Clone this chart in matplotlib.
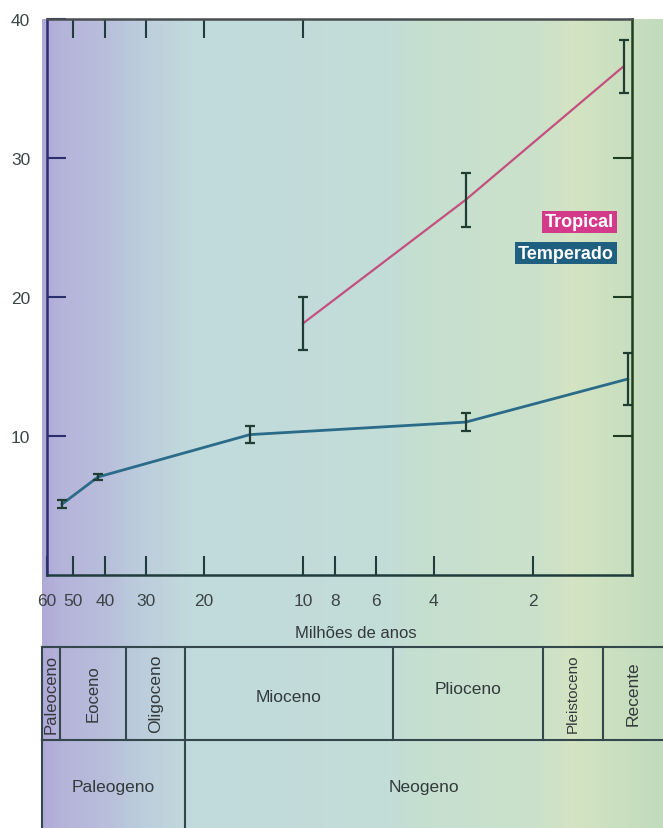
import numpy as np
import matplotlib.pyplot as plt
from matplotlib.colors import LinearSegmentedColormap
from matplotlib.ticker import NullLocator, FixedLocator

plt.rcParams['font.family'] = ['Liberation Sans', 'DejaVu Sans']

# idade em milhoes de anos, temperatura
temp_age = [54, 42, 14.5, 3.2, 1.03]
temp_val = [5.1, 7.05, 10.1, 11.0, 14.1]
temp_err = [0.3, 0.2, 0.6, 0.65, 1.9]

trop_age = [10, 3.2, 1.06]
trop_val = [18.1, 27.0, 36.6]
trop_err = [1.9, 1.95, 1.9]

xticks = [60, 50, 40, 30, 20, 10, 8, 6, 4, 2]
xticks_top = [50, 40, 30, 20, 10]
yticks = [10, 20, 30, 40]

epochs = ['Paleoceno', 'Eoceno', 'Oligoceno', 'Mioceno', 'Plioceno', 'Pleistoceno', 'Recente']
periods = ['Paleogeno', 'Neogeno']

W, H = 663, 829
fig = plt.figure(figsize=(W / 100, H / 100), dpi=100)

# fundo + tabela em coordenadas de pixel
bg = fig.add_axes([0, 0, 1, 1], zorder=0)
bg.set_xlim(0, W)
bg.set_ylim(H, 0)
bg.axis('off')

stops = [(42, '#b0aad8'), (62, '#b5b4da'), (110, '#b9c0db'), (140, '#bccddd'),
         (190, '#c1dadc'), (390, '#c3ddd8'), (420, '#c5dfd0'), (540, '#cbe1ca'),
         (575, '#d4e4c3'), (605, '#cde1c0'), (663, '#c2dbbd')]
cmap = LinearSegmentedColormap.from_list(
    'bg', [((p - 42) / (663 - 42), c) for p, c in stops])
grad = np.linspace(0, 1, 400)[None, :]
bg.imshow(grad, cmap=cmap, aspect='auto', extent=(42, 663, 829, 20), interpolation='bilinear')

line_c = '#34474c'
txt_c = '#333a3c'
ep_edges = [42, 60, 126, 185, 393, 543, 603, 663]
ep_rot = [90, 90, 90, 0, 0, 90, 90]
ep_size = [12, 12, 12.5, 12.5, 12.5, 11, 12.5]
ep_y = [694, 694, 694, 697, 690, 694, 694]
bg.plot([42, 663], [648, 648], color=line_c, lw=1.5)
bg.plot([42, 663], [741, 741], color=line_c, lw=1.5)
for e in ep_edges[:-1]:
    bg.plot([e, e], [648, 741], color=line_c, lw=1.5)
for i, name in enumerate(epochs):
    cx = (ep_edges[i] + ep_edges[i + 1]) / 2
    bg.text(cx, ep_y[i], name, rotation=ep_rot[i], ha='center', va='center',
            fontsize=ep_size[i], color=txt_c)
pe_edges = [42, 185, 663]
for e in pe_edges[:-1]:
    bg.plot([e, e], [741, 829], color=line_c, lw=1.5)
for i, name in enumerate(periods):
    cx = (pe_edges[i] + pe_edges[i + 1]) / 2
    bg.text(cx, 788, name, ha='center', va='center', fontsize=12.5, color=txt_c)

bg.text(356, 634, 'Milhões de anos', ha='center', va='center', fontsize=12, color=txt_c)

# grafico principal
ax = fig.add_axes([47 / W, 1 - 576 / H, (632 - 47) / W, (576 - 20) / H], zorder=1)
ax.patch.set_alpha(0)
ax.set_xscale('log')
ax.set_xlim(60, 1)
ax.set_ylim(0, 40)

ax.plot(temp_age, temp_val, color='#2b6b8a', lw=2)
ax.plot(trop_age, trop_val, color='#c4507f', lw=1.6)
ax.errorbar(temp_age, temp_val, yerr=temp_err, fmt='none', ecolor='#1f3d33', elinewidth=1.6, capsize=3.5, capthick=1.6)
ax.errorbar(trop_age, trop_val, yerr=trop_err, fmt='none', ecolor='#1f3d33', elinewidth=1.6, capsize=3.5, capthick=1.6)

ax.xaxis.set_major_locator(FixedLocator(xticks))
ax.xaxis.set_minor_locator(NullLocator())
ax.set_xticklabels([str(t) for t in xticks])
ax.set_yticks(yticks)
ax.set_yticklabels([str(t) for t in yticks])
ax.tick_params(axis='x', direction='in', length=14, width=1.5, color='#203c3c',
               pad=13, labelsize=12.5, labelcolor='#3c4446')
ax.tick_params(axis='y', direction='in', length=14, width=1.5, color='#2c2f6e',
               pad=12, labelsize=12.5, labelcolor='#3c4446')

top = ax.secondary_xaxis('top')
top.xaxis.set_major_locator(FixedLocator(xticks_top))
top.xaxis.set_minor_locator(NullLocator())
top.tick_params(direction='in', length=14, width=1.5, color='#203c3c', labeltop=False)
top.spines['top'].set_visible(False)

right = ax.secondary_yaxis('right')
right.set_yticks([10, 20, 30])
right.tick_params(direction='in', length=14, width=1.5, color='#1f3d22', labelright=False)
right.spines['right'].set_visible(False)

ax.spines['left'].set_color('#2c2f6e')
ax.spines['bottom'].set_color('#203c3c')
ax.spines['top'].set_color('#4a4f52')
ax.spines['right'].set_color('#1f3d22')
for s in ax.spines.values():
    s.set_linewidth(1.8)

ax.text(0.969, 0.635, 'Tropical', transform=ax.transAxes, ha='right', va='center',
        fontsize=13, fontweight='bold', color='white',
        bbox=dict(boxstyle='square,pad=0.15', fc='#d43a8a', ec='none'))
ax.text(0.969, 0.579, 'Temperado', transform=ax.transAxes, ha='right', va='center',
        fontsize=13, fontweight='bold', color='white',
        bbox=dict(boxstyle='square,pad=0.15', fc='#1f5f80', ec='none'))

fig.savefig('out.png', dpi=100)
